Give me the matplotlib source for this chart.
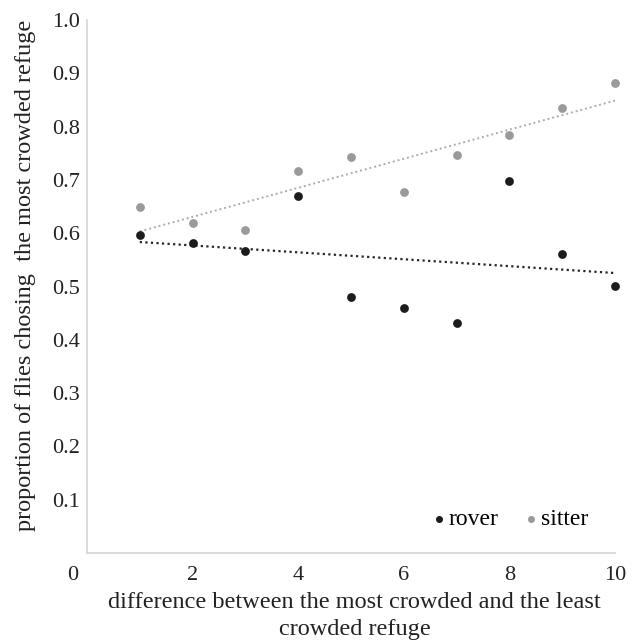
import matplotlib

matplotlib.use("Agg")
import matplotlib.pyplot as plt
import matplotlib.transforms as mtransforms
import numpy as np

# Valores (proporcion que elige el refugio mas poblado).
difference = [1, 2, 3, 4, 5, 6, 7, 8, 9, 10]
rover = [0.596, 0.581, 0.566, 0.669, 0.481, 0.459, 0.432, 0.698, 0.561, 0.501]
sitter = [0.650, 0.620, 0.606, 0.717, 0.743, 0.678, 0.747, 0.784, 0.835, 0.881]
x_ticks = [0, 2, 4, 6, 8, 10]
y_ticks = [0.1, 0.2, 0.3, 0.4, 0.5, 0.6, 0.7, 0.8, 0.9, 1.0]

plt.rcParams["font.family"] = ["Liberation Serif", "DejaVu Serif"]
TXT = "#222222"

fig = plt.figure(figsize=(6.41, 6.44), dpi=100)
ax = fig.add_axes([0.1357, 0.1413, 0.8237, 0.8276])

x = np.array(difference, dtype=float)
for vals, lcolor, lw in ((rover, "#262626", 1.6), (sitter, "#acacac", 1.4)):
    # linea de tendencia lineal (minimos cuadrados), como en Excel
    m, b = np.polyfit(x, vals, 1)
    ax.plot(x, m * x + b, ls=(0, (1, 1.5)), color=lcolor, lw=lw, zorder=1)

ax.scatter(difference, rover, s=40, color="#1c1c1c", zorder=3, label="rover",
           clip_on=False, linewidths=0)
ax.scatter(difference, sitter, s=40, color="#9a9a9a", zorder=3, label="sitter",
           clip_on=False, linewidths=0)

ax.set_xlim(0, 10)
ax.set_ylim(0, 1.0)
ax.set_xticks(x_ticks)
ax.set_yticks(y_ticks)
ax.set_yticklabels([f"{v:.1f}" for v in y_ticks])
ax.tick_params(length=0, labelsize=16, colors=TXT)
ax.tick_params(axis="y", pad=5)
ax.tick_params(axis="x", pad=9)

# el "0" del eje x aparece desplazado a la izquierda
lbl0 = ax.get_xticklabels()[0]
lbl0.set_transform(lbl0.get_transform()
                   + mtransforms.ScaledTranslation(-14 / 100, 0, fig.dpi_scale_trans))

for side in ("top", "right"):
    ax.spines[side].set_visible(False)
for side in ("left", "bottom"):
    ax.spines[side].set_color("#d4d4d4")
    ax.spines[side].set_linewidth(1.2)

ax.set_xlabel("difference between the most crowded and the least\ncrowded refuge",
              fontsize=17.5, color=TXT, linespacing=1.34)
ax.xaxis.set_label_coords(0.5065, -0.0735, transform=ax.transAxes)
ax.xaxis.label.set_va("top")
ax.set_ylabel("proportion of flies chosing  the most crowded refuge",
              fontsize=17.5, color=TXT)
ax.yaxis.set_label_coords(-0.0966, 0.52)

ax.legend(loc="center left", bbox_to_anchor=(0.656, 0.063), ncol=2, frameon=False,
          fontsize=17, markerscale=0.8, handletextpad=0.15, columnspacing=1.13,
          handlelength=0.5, borderpad=0, borderaxespad=0)

fig.savefig("out.png", dpi=100)
